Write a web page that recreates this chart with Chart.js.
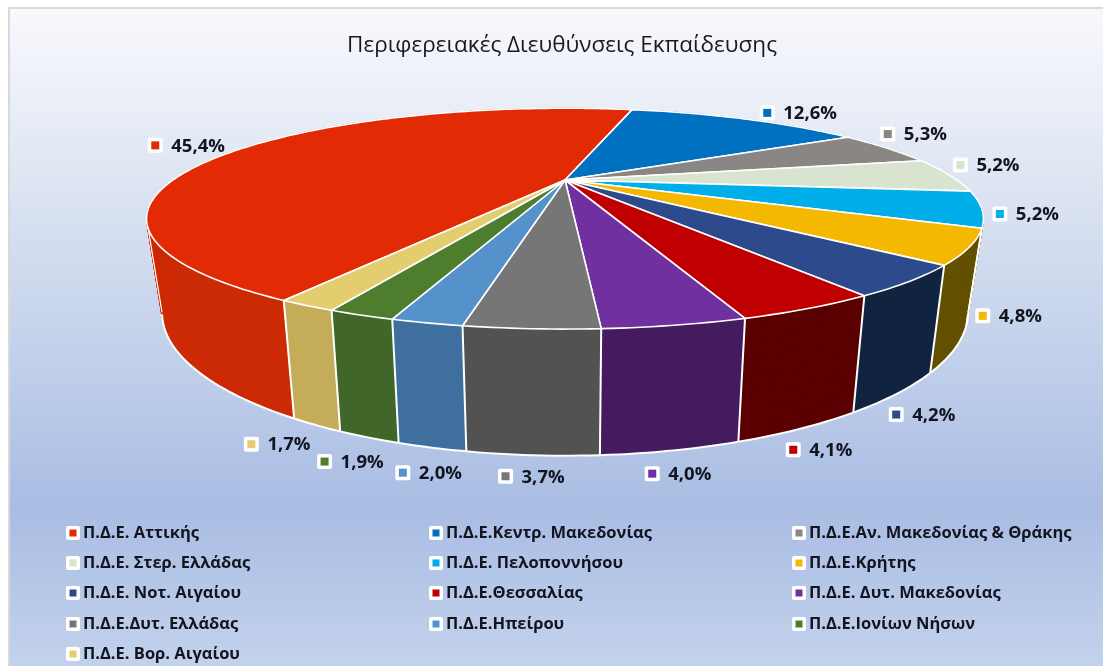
<!DOCTYPE html>
<html><head><meta charset="utf-8">
<style>html,body{margin:0;padding:0;background:#fff}#w{position:relative;width:1103px;height:666px}</style>
<script src="https://cdn.jsdelivr.net/npm/chart.js@4"></script></head>
<body><div id="w"><canvas id="c" width="1103" height="666"></canvas></div>
<script>
const titleText = 'Περιφερειακές Διευθύνσεις Εκπαίδευσης';
const categories = ['Π.Δ.Ε. Αττικής','Π.Δ.Ε.Κεντρ. Μακεδονίας','Π.Δ.Ε.Αν. Μακεδονίας & Θράκης','Π.Δ.Ε. Στερ. Ελλάδας','Π.Δ.Ε. Πελοποννήσου','Π.Δ.Ε.Κρήτης','Π.Δ.Ε. Νοτ. Αιγαίου','Π.Δ.Ε.Θεσσαλίας','Π.Δ.Ε. Δυτ. Μακεδονίας','Π.Δ.Ε.Δυτ. Ελλάδας','Π.Δ.Ε.Ηπείρου','Π.Δ.Ε.Ιονίων Νήσων','Π.Δ.Ε. Βορ. Αιγαίου'];
const shares = [45.4,12.6,5.3,5.2,5.2,4.8,4.2,4.1,4.0,3.7,2.0,1.9,1.7];
const topColors = ['#e22a04','#0070c0','#8a8684','#d8e4d0','#00aeea','#f5b800','#2c4a8c','#c00000','#7030a0','#767676','#5592cc','#4e7d2e','#e4cd6e'];
const wallColors = ['#cc2a04','#00558f','#5a5a5a','#9aa694','#625000','#625000','#10233f','#5a0000','#451b60','#525252','#3e6f9e','#41662a','#c4ac58'];
const labelShift = [[-87,-3],[23,-6],[1,-14],[11,-10],[18,5],[28,-33],[-1,21],[-7,21],[-19,23],[-27,21],[-29,25],[-44,24],[-65,19]];

const K = 0.35, YS = 0.2472, DEPTH = 0.21, BOTTOM = 0.963, XOFF = 3;
const fmt = v => v.toFixed(1).replace('.', ',') + '%';

function project(arc, t, lower) {
  const c = Math.cos(t), s = Math.sin(t), w = 1 / (1 - K * s), R = arc.outerRadius;
  const cx = arc.x + XOFF;
  let x = R * c * w, y = R * YS * s * w;
  if (lower) { x *= BOTTOM; y += R * DEPTH * w; }
  return { x: cx + x, y: arc.y + y };
}
function chip(ctx, x, y, box, inner, color) {
  ctx.fillStyle = '#fff';
  ctx.beginPath(); ctx.roundRect(x - box / 2, y - box / 2, box, box, 2); ctx.fill();
  ctx.fillStyle = color;
  ctx.fillRect(x - inner / 2, y - inner / 2, inner, inner);
}

const backdrop = {
  id: 'backdrop',
  beforeDraw(chart) {
    const { ctx, width, height } = chart;
    ctx.save();
    ctx.fillStyle = '#fff'; ctx.fillRect(0, 0, width, height);
    const g = ctx.createLinearGradient(0, 8, 0, height);
    g.addColorStop(0, '#f8f9fd');
    g.addColorStop(0.25, '#dfe6f3');
    g.addColorStop(0.76, '#a9bde3');
    g.addColorStop(1, '#c3d2ec');
    ctx.fillStyle = g; ctx.fillRect(9, 8, width - 9, height - 8);
    ctx.strokeStyle = '#d9d9d9'; ctx.lineWidth = 2;
    ctx.beginPath(); ctx.moveTo(9, height); ctx.lineTo(9, 8); ctx.lineTo(width, 8); ctx.stroke();
    ctx.restore();
  }
};

const pie3d = {
  id: 'pie3d',
  beforeDatasetDraw(chart, args) {
    const ctx = chart.ctx, arcs = args.meta.data, STEP = Math.PI / 180;
    ctx.save();
    ctx.lineJoin = 'round';
    // side walls
    arcs.forEach((arc, i) => {
      const a0 = arc.startAngle, a1 = arc.endAngle, n = Math.max(2, Math.ceil((a1 - a0) / STEP));
      ctx.fillStyle = wallColors[i]; ctx.strokeStyle = wallColors[i]; ctx.lineWidth = 1;
      for (let k = 0; k < n; k++) {
        const t0 = a0 + (a1 - a0) * k / n, t1 = a0 + (a1 - a0) * (k + 1) / n;
        const A = project(arc, t0, false), B = project(arc, t1, false), C = project(arc, t1, true), D = project(arc, t0, true);
        ctx.beginPath(); ctx.moveTo(A.x, A.y); ctx.lineTo(B.x, B.y); ctx.lineTo(C.x, C.y); ctx.lineTo(D.x, D.y); ctx.closePath();
        ctx.fill(); ctx.stroke();
      }
    });
    // white wall edges and lower rim: only the part seen from the front
    ctx.strokeStyle = '#fff'; ctx.lineWidth = 2;
    arcs.forEach(arc => {
      const a0 = arc.startAngle, a1 = arc.endAngle, n = Math.max(2, Math.ceil((a1 - a0) / STEP));
      if (Math.sin(a0) > K) {
        const s = project(arc, a0, false), e = project(arc, a0, true);
        ctx.beginPath(); ctx.moveTo(s.x, s.y); ctx.lineTo(e.x, e.y); ctx.stroke();
      }
      ctx.beginPath();
      let on = false;
      for (let k = 0; k <= n; k++) {
        const t = a0 + (a1 - a0) * k / n;
        if (Math.sin(t) < K) { on = false; continue; }
        const q = project(arc, t, true);
        if (on) ctx.lineTo(q.x, q.y); else ctx.moveTo(q.x, q.y);
        on = true;
      }
      ctx.stroke();
    });
    // silhouette edges of the cylinder
    const first = arcs[0], tan = Math.asin(K);
    ctx.lineWidth = 1.2;
    [tan, Math.PI - tan].forEach(t => {
      const s = project(first, t, false), e = project(first, t, true);
      ctx.beginPath(); ctx.moveTo(s.x, s.y); ctx.lineTo(e.x, e.y); ctx.stroke();
    });
    // top surface
    arcs.forEach((arc, i) => {
      const a0 = arc.startAngle, a1 = arc.endAngle, n = Math.max(2, Math.ceil((a1 - a0) / STEP));
      ctx.beginPath(); ctx.moveTo(arc.x + XOFF, arc.y);
      for (let k = 0; k <= n; k++) { const q = project(arc, a0 + (a1 - a0) * k / n, false); ctx.lineTo(q.x, q.y); }
      ctx.closePath();
      ctx.fillStyle = topColors[i]; ctx.fill();
      ctx.strokeStyle = '#fff'; ctx.lineWidth = 1.6; ctx.stroke();
    });
    ctx.restore();
    return false;
  },
  afterDatasetsDraw(chart) {
    const ctx = chart.ctx, arcs = chart.getDatasetMeta(0).data, values = chart.data.datasets[0].data;
    ctx.save();
    ctx.textBaseline = 'middle'; ctx.textAlign = 'left';
    // value labels
    arcs.forEach((arc, i) => {
      const mid = (arc.startAngle + arc.endAngle) / 2;
      const p = project(arc, mid, Math.sin(mid) > 0.5);
      const x = p.x + labelShift[i][0], y = p.y + labelShift[i][1];
      chip(ctx, x, y, 15, 8, topColors[i]);
      ctx.fillStyle = '#12141f';
      ctx.font = 'bold 18.5px "Open Sans"';
      ctx.fillText(fmt(values[i]), x + 16, y + 1);
    });
    // legend
    const colX = [73, 436, 799], rowY = [533, 563, 593, 624, 654];
    chart.data.labels.forEach((name, i) => {
      const x = colX[i % 3], y = rowY[Math.floor(i / 3)];
      chip(ctx, x, y, 14, 7, topColors[i]);
      ctx.fillStyle = '#12141f';
      ctx.font = 'bold 16.5px "Open Sans"';
      ctx.fillText(name, x + 10, y);
    });
    ctx.restore();
  }
};

new Chart(document.getElementById('c'), {
  type: 'pie',
  data: { labels: categories, datasets: [{ data: shares, backgroundColor: topColors, borderColor: '#fff', borderWidth: 2 }] },
  options: {
    responsive: false, animation: false, events: [],
    rotation: -150, radius: 392,
    layout: { padding: { left: 21, right: 0, top: 0, bottom: 365 } },
    plugins: {
      legend: { display: false }, tooltip: { enabled: false },
      title: { display: true, text: titleText, color: '#1a1a1a', font: { family: '"Open Sans"', size: 22.5, weight: 'normal', lineHeight: 1.2 }, padding: { top: 32, bottom: 0 } }
    }
  },
  plugins: [backdrop, pie3d]
});
</script></body></html>
